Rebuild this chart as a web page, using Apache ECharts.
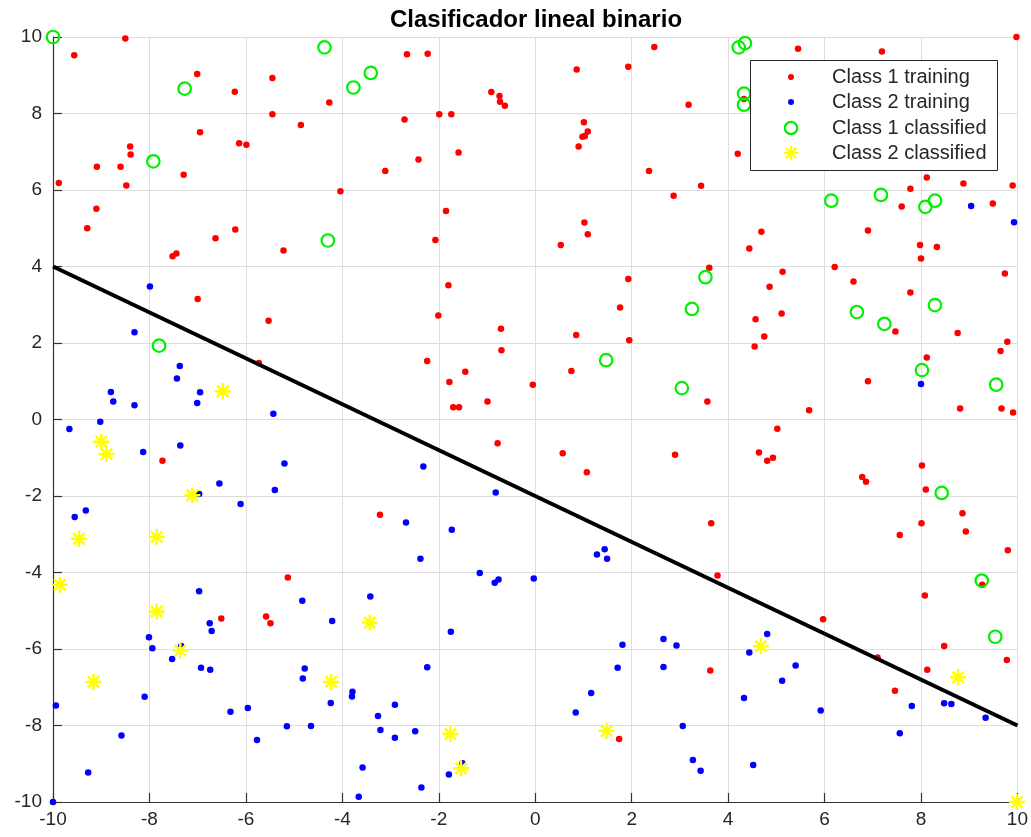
<!DOCTYPE html>
<html>
<head>
<meta charset="utf-8">
<script src="https://cdn.jsdelivr.net/npm/echarts@6/dist/echarts.min.js"></script>
<style>
  html, body { margin: 0; padding: 0; background: #ffffff; }
  #chart { width: 1031px; height: 837px; }
</style>
</head>
<body>
<div id="chart"></div>
<script>
// ---- chart text ----
const chartTitle = 'Clasificador lineal binario';
const seriesNames = ['Class 1 training', 'Class 2 training', 'Class 1 classified', 'Class 2 classified'];

// ---- axis range / ticks ----
const axisMin = -10;
const axisMax = 10;
const tickStep = 2;

// ---- class 1 training samples [x, y] ----
const class1Training = [
  [-8.50, 9.96], [-9.56, 9.52], [-7.01, 9.03], [-6.23, 8.57], [-5.45, 8.93], [-5.45, 7.98],
  [-4.86, 7.70], [-6.95, 7.51], [-8.40, 7.14], [-8.39, 6.93], [-6.14, 7.22], [-5.99, 7.18],
  [-9.09, 6.61], [-8.60, 6.61], [-9.88, 6.18], [-8.48, 6.12], [-7.29, 6.40], [-9.10, 5.51],
  [-9.29, 5.00], [-6.22, 4.97], [-6.63, 4.74], [-7.52, 4.27], [-7.44, 4.34], [-5.22, 4.42],
  [-2.66, 9.55], [-2.23, 9.56], [-4.27, 8.29], [-2.71, 7.84], [-1.99, 7.98], [-1.74, 7.98],
  [-0.91, 8.56], [-0.74, 8.46], [-0.73, 8.31], [-0.63, 8.20], [-1.59, 6.98], [-2.42, 6.80],
  [-3.11, 6.50], [-4.04, 5.97], [-1.85, 5.45], [-2.07, 4.69], [-1.80, 3.51],
  [0.86, 9.15], [1.93, 9.22], [2.47, 9.74], [3.18, 8.23], [1.01, 7.77], [1.09, 7.53],
  [0.98, 7.39], [1.03, 7.41], [0.90, 7.14], [4.20, 6.95], [2.36, 6.50], [3.44, 6.11],
  [2.87, 5.85], [1.02, 5.15], [1.09, 4.84], [0.53, 4.56], [4.69, 4.91], [4.44, 4.47],
  [3.61, 3.97], [1.93, 3.67], [5.13, 3.86], [4.86, 3.47], [4.33, 8.38],
  [5.45, 9.69], [7.19, 9.62], [9.98, 10.0], [8.12, 6.33], [8.88, 6.17], [9.90, 6.12],
  [7.78, 6.03], [7.60, 5.57], [9.49, 5.65], [6.90, 4.94], [7.98, 4.56], [8.33, 4.51],
  [8.00, 4.21], [6.21, 3.99], [6.60, 3.61], [9.74, 3.82],
  [-7.00, 3.15], [-5.53, 2.58], [-5.73, 1.48], [-7.73, -1.08],
  [-2.01, 2.72], [-0.71, 2.37], [-0.70, 1.81], [-2.24, 1.53], [-1.45, 1.25], [-1.78, 0.98],
  [-1.70, 0.32], [-1.58, 0.32], [-0.99, 0.47], [-0.05, 0.91], [-0.78, -0.62], [-3.22, -2.49],
  [1.76, 2.93], [0.85, 2.21], [1.95, 2.07], [0.75, 1.27], [3.57, 0.47], [5.11, 2.77],
  [4.57, 2.62], [4.75, 2.17], [4.55, 1.91], [0.57, -0.88], [1.07, -1.38], [2.90, -0.92],
  [5.02, -0.24], [4.64, -0.86], [4.81, -1.08], [4.93, -1.00], [3.65, -2.71],
  [7.78, 3.32], [7.47, 2.30], [8.76, 2.26], [9.79, 2.03], [9.65, 1.79], [8.12, 1.62],
  [6.90, 1.00], [5.68, 0.24], [8.81, 0.29], [9.67, 0.29], [9.91, 0.18], [8.02, -1.20],
  [6.78, -1.50], [6.86, -1.63], [8.10, -1.83], [8.86, -2.45], [8.01, -2.71], [8.93, -2.93],
  [7.56, -3.02], [9.80, -3.42],
  [-6.51, -5.20], [-5.58, -5.15], [-5.49, -5.33], [-5.13, -4.13],
  [3.78, -4.08], [3.63, -6.56], [1.74, -8.35],
  [8.08, -4.60], [9.27, -4.32], [5.97, -5.22], [8.48, -5.92], [9.78, -6.29], [7.10, -6.22],
  [8.13, -6.54], [7.46, -7.09]
];

// ---- class 2 training samples [x, y] ----
const class2Training = [
  [-7.99, 3.48], [-8.31, 2.28], [-7.37, 1.40], [-7.43, 1.07], [-8.80, 0.72], [-8.75, 0.47],
  [-8.31, 0.37], [-6.95, 0.71], [-7.01, 0.43], [-5.43, 0.15], [-9.02, -0.06], [-9.66, -0.25],
  [-7.36, -0.68], [-8.13, -0.85], [-5.20, -1.15], [-6.55, -1.67], [-5.40, -1.84], [-6.11, -2.21],
  [-6.97, -1.95], [-9.32, -2.38], [-9.55, -2.55],
  [-2.32, -1.23], [-0.82, -1.91], [-2.68, -2.69], [-1.73, -2.88],
  [8.00, 0.93], [9.04, 5.58], [9.93, 5.16],
  [-6.97, -4.49], [-6.75, -5.33], [-6.71, -5.53], [-8.01, -5.69], [-7.94, -5.98], [-7.53, -6.26],
  [-6.93, -6.49], [-6.74, -6.54], [-7.34, -5.92], [-8.10, -7.25], [-9.94, -7.48], [-6.32, -7.64],
  [-5.96, -7.54], [-5.15, -8.02], [-5.77, -8.38], [-8.58, -8.26], [-9.27, -9.23], [-10.0, -10.0],
  [-2.38, -3.64], [-1.15, -4.01], [-0.84, -4.27], [-0.76, -4.18], [-0.03, -4.16], [-4.83, -4.74],
  [-4.21, -5.27], [-3.42, -4.63], [-1.75, -5.55], [-4.78, -6.51], [-4.82, -6.77], [-2.24, -6.48],
  [-3.79, -7.12], [-3.80, -7.24], [-4.24, -7.41], [-2.91, -7.46], [-3.26, -7.75], [-4.65, -8.01],
  [-3.21, -8.12], [-2.91, -8.32], [-2.49, -8.15], [-3.58, -9.10], [-1.79, -9.28], [-1.51, -8.99],
  [-2.36, -9.62], [-3.66, -9.86],
  [1.28, -3.53], [1.44, -3.39], [1.49, -3.64], [1.81, -5.89], [1.71, -6.49], [2.66, -5.74],
  [2.93, -5.91], [2.66, -6.47], [1.16, -7.15], [0.84, -7.66], [3.06, -8.01], [3.27, -8.90],
  [3.43, -9.18], [4.81, -5.61], [4.44, -6.09], [5.12, -6.83], [4.33, -7.28], [4.52, -9.03],
  [5.40, -6.43], [5.92, -7.61], [7.81, -7.49], [8.48, -7.42], [8.63, -7.44], [9.34, -7.80],
  [7.56, -8.20]
];

// ---- test samples assigned to class 1 ----
const class1Classified = [
  [-10.0, 10.0], [-7.27, 8.65], [-7.92, 6.75], [-4.37, 9.73], [-3.41, 9.06], [-3.77, 8.68],
  [-4.30, 4.68], [4.22, 9.73], [4.35, 9.84], [4.33, 8.52], [4.33, 8.23], [3.53, 3.72],
  [6.14, 5.72], [7.17, 5.87], [8.09, 5.56], [8.29, 5.72], [-7.80, 1.93], [3.25, 2.89],
  [1.47, 1.55], [3.04, 0.82], [6.67, 2.81], [7.24, 2.50], [8.29, 2.99], [8.02, 1.29],
  [9.56, 0.91], [8.43, -1.92], [9.26, -4.21], [9.54, -5.68]
];

// ---- test samples assigned to class 2 ----
const class2Classified = [
  [-6.48, 0.74], [-9.00, -0.58], [-8.89, -0.90], [-7.11, -1.98], [-9.46, -3.12], [-7.85, -3.07],
  [-9.86, -4.32], [-7.85, -5.02], [-7.36, -6.04], [-9.16, -6.86], [-3.43, -5.31], [-4.23, -6.86],
  [-1.76, -8.22], [-1.54, -9.12], [1.48, -8.14], [4.68, -5.93], [8.77, -6.74], [9.99, -10.0]
];

// ---- decision boundary end points ----
const boundary = [[-10, 4], [10, -8]];

// ---- styling ----
const FONT = '"Liberation Sans", Arial, Helvetica, sans-serif';
const TEXT_COLOR = '#262626';
const COLORS = ['#ff0000', '#0000ff', '#00f000', '#ffff00'];
const STAR_PATH = 'path://M0,-10L0,10M-10,0L10,0M-7.07,-7.07L7.07,7.07M-7.07,7.07L7.07,-7.07';

const chart = echarts.init(document.getElementById('chart'), null, { renderer: 'canvas' });

function axisCfg(isX) {
  return {
    type: 'value',
    min: axisMin,
    max: axisMax,
    interval: tickStep,
    axisLine: { show: true, onZero: false, lineStyle: { color: '#333333', width: 1.2 } },
    axisTick: { show: true, inside: true, length: 9, lineStyle: { color: '#333333', width: 1.2 } },
    axisLabel: {
      color: TEXT_COLOR, fontFamily: FONT, fontSize: 19,
      margin: isX ? 8 : 11
    },
    splitLine: { show: true, lineStyle: { color: '#dedede', width: 1 } }
  };
}

// legend drawn as a framed box in the upper right corner
const legendLeft = 750, legendTop = 60, legendW = 247, legendH = 110;
const legendRows = [77, 102, 128, 153];
const iconX = 791, textX = 832;
const legendGraphics = [
  { type: 'rect', z: 100, shape: { x: legendLeft + 0.5, y: legendTop + 0.5, width: legendW, height: legendH },
    style: { fill: '#ffffff', stroke: '#262626', lineWidth: 1 } },
  { type: 'circle', z: 101, shape: { cx: iconX, cy: legendRows[0], r: 3 }, style: { fill: COLORS[0] } },
  { type: 'circle', z: 101, shape: { cx: iconX, cy: legendRows[1], r: 3 }, style: { fill: COLORS[1] } },
  { type: 'circle', z: 101, shape: { cx: iconX, cy: legendRows[2], r: 6.2 },
    style: { fill: 'none', stroke: COLORS[2], lineWidth: 2.2 } },
  { type: 'line', z: 101, shape: { x1: iconX - 7.5, y1: legendRows[3], x2: iconX + 7.5, y2: legendRows[3] }, style: { stroke: COLORS[3], lineWidth: 2.2 } },
  { type: 'line', z: 101, shape: { x1: iconX, y1: legendRows[3] - 7.5, x2: iconX, y2: legendRows[3] + 7.5 }, style: { stroke: COLORS[3], lineWidth: 2.2 } },
  { type: 'line', z: 101, shape: { x1: iconX - 5.3, y1: legendRows[3] - 5.3, x2: iconX + 5.3, y2: legendRows[3] + 5.3 }, style: { stroke: COLORS[3], lineWidth: 2.2 } },
  { type: 'line', z: 101, shape: { x1: iconX - 5.3, y1: legendRows[3] + 5.3, x2: iconX + 5.3, y2: legendRows[3] - 5.3 }, style: { stroke: COLORS[3], lineWidth: 2.2 } }
].concat(seriesNames.map((name, i) => ({
  type: 'text', z: 101, x: textX, y: legendRows[i],
  style: { text: name, fill: TEXT_COLOR, font: '20px ' + FONT, verticalAlign: 'middle' }
})));

const option = {
  backgroundColor: '#ffffff',
  animation: false,
  title: {
    text: chartTitle,
    left: 531,
    top: 3,
    textAlign: 'center',
    textStyle: { fontFamily: FONT, fontSize: 24, fontWeight: 'bold', color: '#000000' }
  },
  grid: { left: 53, right: 12, top: 37, bottom: 35, containLabel: false },
  xAxis: axisCfg(true),
  yAxis: axisCfg(false),
  graphic: legendGraphics,
  series: [
    {
      name: seriesNames[0], type: 'scatter', data: class1Training, z: 2,
      symbol: 'circle', symbolSize: 6.5, itemStyle: { color: COLORS[0], opacity: 1 }
    },
    {
      name: seriesNames[1], type: 'scatter', data: class2Training, z: 3,
      symbol: 'circle', symbolSize: 6.5, itemStyle: { color: COLORS[1], opacity: 1 }
    },
    {
      name: seriesNames[2], type: 'scatter', data: class1Classified, z: 4,
      symbol: 'circle', symbolSize: 12.5,
      itemStyle: { color: 'rgba(0,0,0,0)', borderColor: COLORS[2], borderWidth: 2.2, opacity: 1 }
    },
    {
      name: seriesNames[3], type: 'scatter', data: class2Classified, z: 5,
      symbol: STAR_PATH, symbolSize: 16,
      itemStyle: { color: COLORS[3], borderColor: COLORS[3], borderWidth: 2.5, opacity: 1 }
    },
    {
      type: 'line', data: boundary, z: 6, symbol: 'none',
      lineStyle: { color: '#000000', width: 4 }
    }
  ]
};

chart.setOption(option);
</script>
</body>
</html>
